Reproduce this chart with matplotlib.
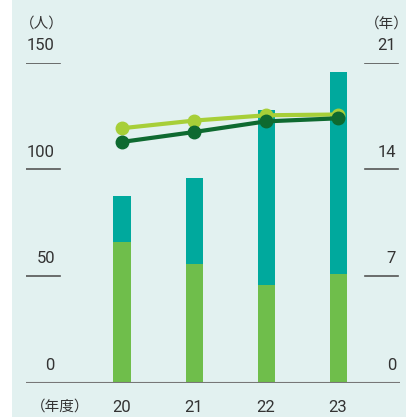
import matplotlib
matplotlib.use('Agg')
import matplotlib.pyplot as plt
from matplotlib.patches import Rectangle

# data
years = ['20', '21', '22', '23']
bar_lower = [66, 55.5, 46, 51]
bar_upper = [21.5, 40.5, 82, 94.5]
line_light = [16.7, 17.2, 17.55, 17.6]
line_dark = [15.8, 16.45, 17.15, 17.35]
left_ticks = [0, 50, 100, 150]
right_ticks = [0, 7, 14, 21]

TEAL = '#00a99d'
GREEN = '#6fbe4b'
LIGHT = '#a7cf38'
DARK = '#0e6a30'
BG = '#e2f1f0'
TXT = '#333333'

plt.rcParams['font.family'] = ['Roboto', 'Noto Sans CJK JP', 'DejaVu Sans']

W = 417
fig = plt.figure(figsize=(4.17, 4.17), dpi=100)
fig.patches.append(Rectangle((12 / W, 0), (406 - 12) / W, 1, transform=fig.transFigure,
                             facecolor=BG, edgecolor='none', zorder=-10))

# axes spans baseline x 26..400 px, y 382.7 (0) .. 62.7 (150)
ax = fig.add_axes([26 / W, (W - 382.7) / W, 374 / W, 320 / W])
ax.patch.set_alpha(0)
x = list(range(len(years)))
ax.set_xlim((26 - 122) / 72, (400 - 122) / 72)
ax.set_ylim(0, 150)
bw = 17 / 72
ax.bar(x, bar_lower, width=bw, color=GREEN, zorder=2)
ax.bar(x, bar_upper, bottom=bar_lower, width=bw, color=TEAL, zorder=2)
ax.axis('off')
ax.axhline(0, color='#777777', linewidth=1.5, zorder=3)

for t in left_ticks[1:]:
    ax.axhline(t, xmin=0, xmax=34 / 374, color='#555555', linewidth=1.2)
for t in left_ticks:
    ax.text((55 - 122) / 72, t + 4.5, str(t), ha='right', va='bottom',
            fontsize=12, color=TXT)
for t in right_ticks[1:]:
    ax.axhline(t / 21 * 150, xmin=(365 - 26) / 374, xmax=(398 - 26) / 374,
               color='#555555', linewidth=1.2)
for t in right_ticks:
    ax.text((396 - 122) / 72, t / 21 * 150 + 4.5, str(t), ha='right', va='bottom',
            fontsize=12, color=TXT)

for i, y in enumerate(years):
    ax.text(i, -8, y, ha='center', va='top', fontsize=12, color=TXT)
ax.text((60 - 122) / 72, -8, '（年度）', ha='center', va='top', fontsize=10.5, color=TXT)
ax.text((42 - 122) / 72, 165, '（人）', ha='center', va='bottom', fontsize=10.5, color=TXT)
ax.text((387 - 122) / 72, 165, '（年）', ha='center', va='bottom', fontsize=10.5, color=TXT)

ax2 = ax.twinx()
ax2.set_ylim(0, 21)
ax2.axis('off')
ax2.plot(x, line_light, color=LIGHT, linewidth=3, marker='o', markersize=9, zorder=4)
ax2.plot(x, line_dark, color=DARK, linewidth=3, marker='o', markersize=9, zorder=5)

fig.savefig('out.png', dpi=100, facecolor='white')
